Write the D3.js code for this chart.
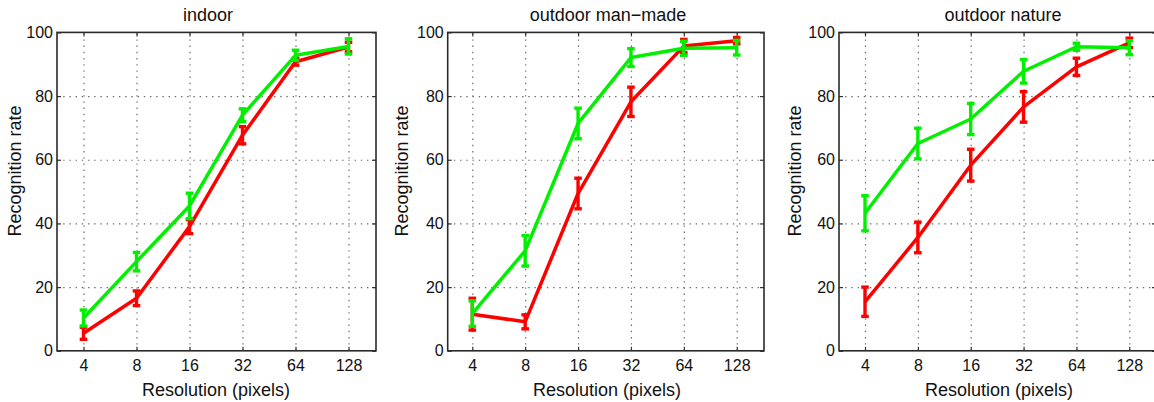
<!DOCTYPE html>
<html>
<head>
<meta charset="utf-8">
<script src="https://cdn.jsdelivr.net/npm/d3@7"></script>
<style>
  html, body { margin: 0; padding: 0; background: #fff; }
  svg { display: block; }
  text { font-family: "Liberation Sans", Arial, Helvetica, sans-serif; fill: #111; }
</style>
</head>
<body>
<svg id="chart" width="1154" height="402"></svg>
<script>
// Image resolutions tested (pixels per side)
const resolutions = [4, 8, 16, 32, 64, 128];
const yTicks = [0, 20, 40, 60, 80, 100];
const gridY = [20, 40, 60, 80];

const panelTitles = ["indoor", "outdoor man\u2212made", "outdoor nature"];
const xAxisLabel = "Resolution (pixels)";
const yAxisLabel = "Recognition rate";

// indoor scenes
const indoorGreenMean = [10.3, 28.0, 45.5, 74.0, 92.8, 95.6];
const indoorGreenErr  = [2.5, 2.9, 4.0, 2.0, 1.6, 2.4];
const indoorRedMean   = [5.5, 16.5, 39.0, 67.7, 90.8, 95.4];
const indoorRedErr    = [1.9, 2.3, 2.2, 2.7, 1.1, 1.5];

// outdoor man-made scenes
const manmadeGreenMean = [11.7, 31.4, 71.4, 92.1, 95.0, 95.2];
const manmadeGreenErr  = [4.0, 4.8, 4.8, 2.8, 2.2, 2.3];
const manmadeRedMean   = [11.5, 9.1, 49.4, 78.2, 95.7, 97.4];
const manmadeRedErr    = [5.0, 2.2, 4.8, 4.6, 2.1, 1.0];

// outdoor nature scenes
const natureGreenMean = [43.2, 65.1, 72.8, 87.8, 95.5, 95.2];
const natureGreenErr  = [5.5, 4.8, 4.9, 3.7, 1.1, 2.2];
const natureRedMean   = [15.4, 35.6, 58.3, 76.6, 89.2, 96.7];
const natureRedErr    = [4.6, 4.8, 5.0, 4.8, 2.7, 1.5];

const panelSeries = [
  [{ mean: indoorRedMean, err: indoorRedErr, color: "#ff0000" },
   { mean: indoorGreenMean, err: indoorGreenErr, color: "#00f000" }],
  [{ mean: manmadeRedMean, err: manmadeRedErr, color: "#ff0000" },
   { mean: manmadeGreenMean, err: manmadeGreenErr, color: "#00f000" }],
  [{ mean: natureRedMean, err: natureRedErr, color: "#ff0000" },
   { mean: natureGreenMean, err: natureGreenErr, color: "#00f000" }]
];

// Frame and tick placement of each subplot
const layout = [
  { left: 57,    right: 376,  x4: 83.5,  x128: 348.5,  titleX: 208,  xLabelX: 216, yLabelX: 21 },
  { left: 447.7, right: 764,  x4: 472.3, x128: 736.7,  titleX: 608,  xLabelX: 607, yLabelX: 408 },
  { left: 839,   right: 1156, x4: 865,   x128: 1129.3, titleX: 1003, xLabelX: 999, yLabelX: 801 }
];
const plotTop = 32.4, plotBottom = 350.8;

const svg = d3.select("#chart");

layout.forEach((L, i) => {
  const x = d3.scaleLog().base(2).domain([4, 128]).range([L.x4, L.x128]);
  const y = d3.scaleLinear().domain([0, 100]).range([plotBottom, plotTop]);
  const g = svg.append("g");
  const w = L.right - L.left, h = plotBottom - plotTop;

  // dotted grid
  const grid = g.append("g").attr("class", "grid");
  grid.append("g")
    .attr("transform", `translate(0,${plotBottom})`)
    .call(d3.axisBottom(x).tickValues(resolutions).tickSize(-h).tickFormat(""))
    .call(s => s.select(".domain").remove());
  grid.append("g")
    .attr("transform", `translate(${L.left},0)`)
    .call(d3.axisLeft(y).tickValues(gridY).tickSize(-w).tickFormat(""))
    .call(s => s.select(".domain").remove());
  grid.selectAll("line")
    .attr("stroke", "#6a6a6a").attr("stroke-width", 1.2)
    .attr("stroke-dasharray", "1.4,4.8");

  // inward ticks on all four sides, labels on bottom and left
  const fontCfg = s => s.selectAll("text")
    .attr("font-size", 16).attr("fill", "#111")
    .attr("font-family", "'Liberation Sans', Arial, sans-serif");
  const tickCfg = s => { s.select(".domain").remove(); s.selectAll("line").attr("stroke", "#333").attr("stroke-width", 1.2); };

  g.append("g").attr("transform", `translate(0,${plotBottom})`)
    .call(d3.axisBottom(x).tickValues(resolutions).tickFormat(d3.format("d"))
      .tickSizeInner(-4).tickSizeOuter(0).tickPadding(8.8))
    .call(tickCfg).call(fontCfg);
  g.append("g").attr("transform", `translate(0,${plotTop})`)
    .call(d3.axisTop(x).tickValues(resolutions).tickFormat("")
      .tickSizeInner(-4).tickSizeOuter(0))
    .call(tickCfg);
  g.append("g").attr("transform", `translate(${L.left},0)`)
    .call(d3.axisLeft(y).tickValues(yTicks).tickFormat(d3.format("d"))
      .tickSizeInner(-4).tickSizeOuter(0).tickPadding(4))
    .call(tickCfg).call(fontCfg);
  g.append("g").attr("transform", `translate(${L.right},0)`)
    .call(d3.axisRight(y).tickValues(yTicks).tickFormat("")
      .tickSizeInner(-4).tickSizeOuter(0))
    .call(tickCfg);

  // frame
  g.append("rect")
    .attr("x", L.left).attr("y", plotTop).attr("width", w).attr("height", h)
    .attr("fill", "none").attr("stroke", "#2a2a2a").attr("stroke-width", 1.6);

  // series: lines with error bars
  const line = d3.line().x(d => x(d.r)).y(d => y(d.m));
  panelSeries[i].forEach(S => {
    const pts = resolutions.map((r, k) => ({ r, m: S.mean[k], e: S.err[k] }));
    const sg = g.append("g");
    sg.append("path").datum(pts)
      .attr("d", line).attr("fill", "none")
      .attr("stroke", S.color).attr("stroke-width", 3.5)
      .attr("stroke-linejoin", "round");
    const eb = sg.selectAll(".eb").data(pts).join("g").attr("class", "eb")
      .attr("stroke", S.color).attr("stroke-width", 3.4);
    eb.append("line")
      .attr("x1", d => x(d.r)).attr("x2", d => x(d.r))
      .attr("y1", d => y(d.m - d.e)).attr("y2", d => y(d.m + d.e));
    [-1, 1].forEach(sgn => {
      eb.append("line")
        .attr("x1", d => x(d.r) - 3.8).attr("x2", d => x(d.r) + 3.8)
        .attr("y1", d => y(d.m + sgn * d.e)).attr("y2", d => y(d.m + sgn * d.e));
    });
  });

  // titles and axis labels
  g.append("text").attr("x", L.titleX).attr("y", 21)
    .attr("text-anchor", "middle").attr("font-size", 18).text(panelTitles[i]);
  g.append("text").attr("x", L.xLabelX).attr("y", 396)
    .attr("text-anchor", "middle").attr("font-size", 18).text(xAxisLabel);
  g.append("text")
    .attr("transform", `translate(${L.yLabelX},171) rotate(-90)`)
    .attr("text-anchor", "middle").attr("font-size", 18).text(yAxisLabel);
});
</script>
</body>
</html>
